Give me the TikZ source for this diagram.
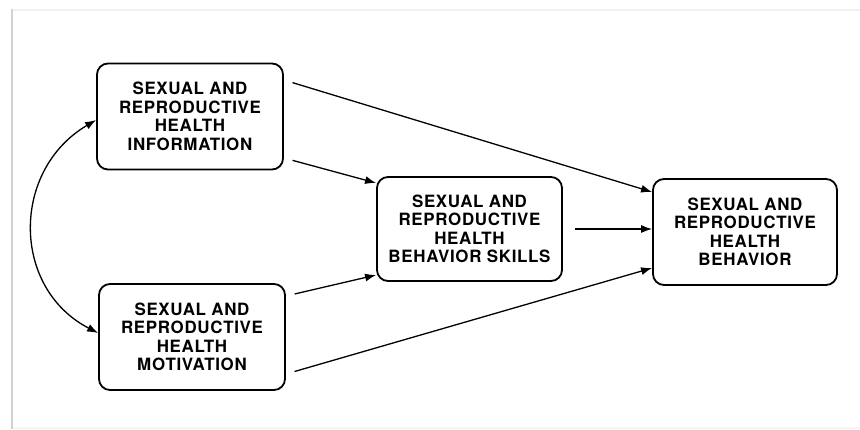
\documentclass[tikz,border=0pt]{standalone}
\usepackage{fontspec}
\setmainfont{TeX Gyre Heros}
\usepackage{tikz}
\usetikzlibrary{arrows.meta, positioning, calc}
\tikzset{
    modeldiagram/.style={>={Latex[length=11bp,width=8bp]}, line width=1.3bp, x=1bp, y=-1bp},
    factor/.style={draw, line width=1.8bp, rounded corners=11bp, minimum width=186bp, minimum height=106bp,
        align=center, inner sep=0pt,
        font=\addfontfeatures{LetterSpace=4}\fontsize{17}{18.6}\selectfont\bfseries},
    % gap between the arrow tail and the box it leaves
    tail/.style={shorten <=9bp},
}

\begin{document}
\begin{tikzpicture}[modeldiagram]
        \useasboundingbox (0,0) rectangle (860,429);
        % screenshot frame
        \draw[line width=2.5bp, gray!35] (12,9) -- (12,429);
        \draw[line width=2bp, gray!12] (13,10) -- (860,10);
        \draw[line width=1.5bp, gray!7] (13,428) -- (860,428);

        \node[factor] (info)   at (190,116.5) {SEXUAL AND\\REPRODUCTIVE\\HEALTH\\INFORMATION};
        \node[factor] (motiv)  at (192,337)   {SEXUAL AND\\REPRODUCTIVE\\HEALTH\\MOTIVATION};
        \node[factor, minimum width=185bp, minimum height=104bp] (skills) at (469.5,229) {SEXUAL AND\\REPRODUCTIVE\\HEALTH\\BEHAVIOR SKILLS};
        \node[factor, minimum width=184bp] (behav)  at (745,232) {SEXUAL AND\\REPRODUCTIVE\\HEALTH\\BEHAVIOR};

        \draw[->, tail] ([yshift=36.5bp]info.east) -- ([yshift=40bp]behav.west);
        \draw[->, tail] ([yshift=-41.5bp]info.east) -- ([yshift=46bp]skills.west);
        \draw[->, tail] ([yshift=41bp]motiv.east) -- ([yshift=-46bp]skills.west);
        \draw[->, tail] ([yshift=-37bp]motiv.east) -- ([yshift=-36bp]behav.west);
        \draw[->, shorten <=12bp] (skills.east) -- (skills.east -| behav.west);

        % correlation between information and motivation
        \draw[<->] ([yshift=-3.5bp]info.west) .. controls +(-85,50) and +(-87,-45) .. ([yshift=4bp]motiv.west);
    \end{tikzpicture}
\end{document}
